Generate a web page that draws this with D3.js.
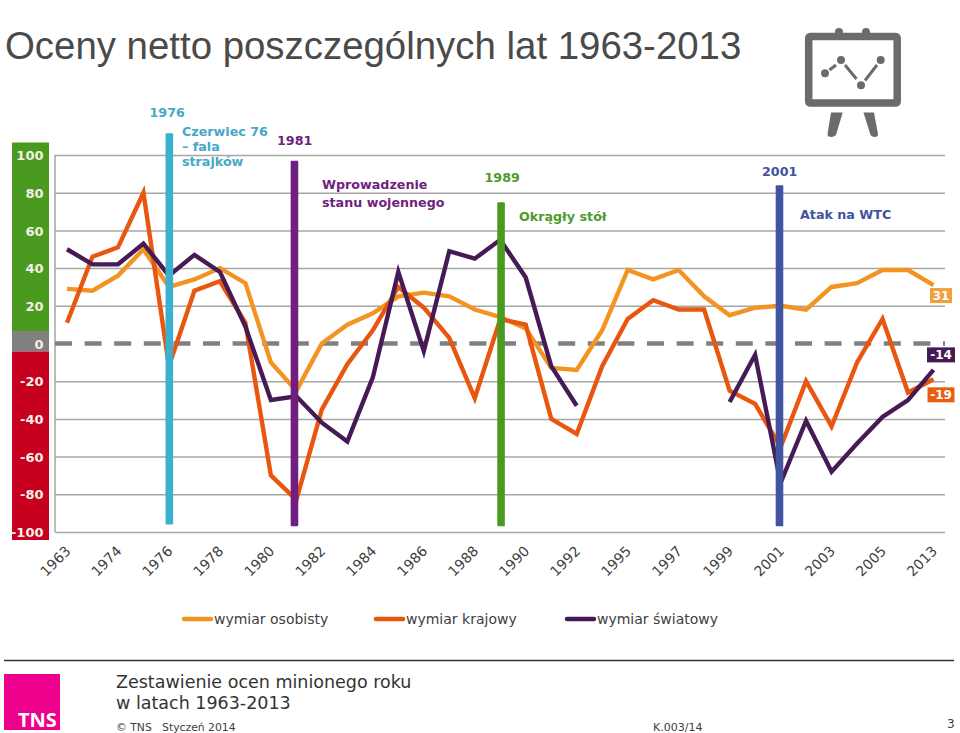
<!DOCTYPE html>
<html><head><meta charset="utf-8">
<style>html,body{margin:0;padding:0;background:#fff}svg{display:block}</style>
<script src="https://cdn.jsdelivr.net/npm/d3@7"></script></head>
<body><svg id="c" width="960" height="733" font-family="DejaVu Sans"></svg>
<script>
const years=[1963,1970,1974,1975,1976,1977,1978,1979,1980,1981,1982,1983,1984,1985,1986,1987,1988,1989,1990,1991,1992,1993,1995,1996,1997,1998,1999,2000,2001,2002,2003,2004,2005,2009,2013];
const xTickYears=[1963,1974,1976,1978,1980,1982,1984,1986,1988,1990,1992,1995,1997,1999,2001,2003,2005,2013];
const yTicks=[100,80,60,40,20,-20,-40,-60,-80,-100];
const yLabels=[100,80,60,40,20,0,-20,-40,-60,-80,-100];
const osobisty=[29,28,36,50,30,34,40,32,-10,-25,0,10,16,25,27,25,18,14,8,-13,-14,7,39,34,39,25,15,19,20,18,30,32,39,39,31];
const krajowy=[11,46,51,80,-12,28,33,11,-70,-83,-35,-11,7,30,19,3,-29,13,10,-40,-48,-12,13,23,18,18,-25,-32,-55,-20,-44,-10,13,-26,-19];
const swiatowy=[50,42,42,53,36,47,38,9,-30,-28,-42,-52,-18,38,-4,49,45,55,35,-12,-33,null,null,null,null,null,-31,-6,-74,-41,-68,-53,-39,-30,-14];
const seriesNames=["wymiar osobisty","wymiar krajowy","wymiar światowy"];
const eventYears=[1976,1981,1989,2001];
const eventTops=[111.5,97,75,84];
const eventBottoms=[-96,-97,-97,-97];
const eventLabels=["1976","1981","1989","2001"];
const eventNotes=[["Czerwiec 76","– fala","strajków"],["Wprowadzenie","stanu wojennego"],["Okrągły stół"],["Atak na WTC"]];

const svg=d3.select("#c");
const x=d3.scalePoint().domain(years).range([67,933.5]);
const y=d3.scaleLinear().domain([-100,100]).range([532,155]);
const colors=["#f39422","#e8560f","#451a55"];
const endColors=["#f2a03c","#e8600f","#451a55"];
const eventColors=["#3bb0cf","#6f1f80","#4a9a1f","#41549f"];
const noteColors=["#45a9c4","#6f1f80","#4f9a2a","#41549f"];

// colour band behind the y labels
svg.append("rect").attr("x",12).attr("y",142.5).attr("width",37).attr("height",y(0)-12.5-142.5).attr("fill","#4a9a1f");
svg.append("rect").attr("x",12).attr("y",y(0)-12.5).attr("width",37).attr("height",20.5).attr("fill","#808080");
svg.append("rect").attr("x",12).attr("y",y(0)+8).attr("width",37).attr("height",540-y(0)-8).attr("fill","#c6001e");

// grid
const gridAxis=d3.axisLeft(y).tickValues(yTicks).tickSize(-890).tickFormat("");
const grid=svg.append("g").attr("transform","translate(55,0)").call(gridAxis);
grid.select(".domain").attr("stroke","#a6a6a6").attr("stroke-width",1.5).attr("d",`M0,${y(100)}V${y(-100)}`);
grid.selectAll(".tick line").attr("stroke","#a6a6a6").attr("stroke-width",1.5);

// dashed zero line
svg.append("line").attr("x1",55).attr("x2",945).attr("y1",y(0)).attr("y2",y(0))
  .attr("stroke","#808080").attr("stroke-width",4.5).attr("stroke-dasharray","17 12.6");

// y labels
const yLab=svg.append("g").attr("transform","translate(43.5,0)").call(d3.axisLeft(y).tickValues(yLabels).tickSize(0).tickPadding(0).tickFormat(String));
yLab.select(".domain").remove();
yLab.selectAll("text").attr("fill","#f4efe8").attr("font-size",13).attr("font-weight","bold").attr("font-family","DejaVu Sans").attr("dy","0.36em");

// x labels
const xAxis=d3.axisBottom(x).tickValues(xTickYears).tickSize(0).tickPadding(0).tickFormat(String);
const xg=svg.append("g").attr("transform","translate(0,548)").call(xAxis);
xg.select(".domain").remove();
xg.selectAll("text").attr("fill","#404040").attr("font-size",14).attr("font-family","DejaVu Sans")
  .attr("text-anchor","end").attr("dy",0).attr("y",0).attr("x",0)
  .attr("transform","translate(4,4) rotate(-45)");

// lines
const line=d3.line().defined(d=>d.v!==null).x(d=>x(d.yr)).y(d=>y(d.v));
[osobisty,krajowy,swiatowy].forEach((s,i)=>{
  svg.append("path").datum(s.map((v,k)=>({yr:years[k],v})))
    .attr("d",line).attr("fill","none").attr("stroke",colors[i]).attr("stroke-width",4.4).attr("stroke-linejoin","miter").attr("stroke-linecap","butt");
});

// event bars
const eventNudge=[0.4,-1.9,0.8,-1.1];
eventYears.forEach((yr,i)=>{
  svg.append("rect").attr("x",x(yr)+eventNudge[i]-3.8).attr("width",7.6)
    .attr("y",y(eventTops[i])).attr("height",y(eventBottoms[i])-y(eventTops[i]))
    .attr("rx",1).attr("fill",eventColors[i]);
});

// event text
const labelPos=[[149.5,117],[277,144.5],[484.5,182],[762,175.5]];
const notePos=[[182,136,15],[322,188.5,18.5],[519,220.5,0],[800,219,0]];
eventLabels.forEach((t,i)=>{
  svg.append("text").attr("x",labelPos[i][0]).attr("y",labelPos[i][1]).text(t)
    .attr("fill",noteColors[i]).attr("font-size",12.7).attr("font-weight","bold");
  eventNotes[i].forEach((n,k)=>{
    svg.append("text").attr("x",notePos[i][0]).attr("y",notePos[i][1]+k*notePos[i][2]).text(n)
      .attr("fill",noteColors[i]).attr("font-size",12.7).attr("font-weight","bold");
  });
});

// end labels
const endLabels=[[osobisty,10.5,930,22,0],[swiatowy,-15,927,28,2],[krajowy,15.5,927.5,27,1]];
endLabels.forEach(([s,dy,bx,bw,ci])=>{
  const v=s[s.length-1], cy=y(v)+dy;
  svg.append("rect").attr("x",bx).attr("y",cy-7.5).attr("width",bw).attr("height",15).attr("fill",endColors[ci]);
  svg.append("text").attr("x",bx+bw/2).attr("y",cy).attr("dy","0.36em").attr("text-anchor","middle")
    .attr("fill","#fff").attr("font-size",12).attr("font-weight","bold").text(String(v));
});

// legend
const legendX=[182,374,565];
seriesNames.forEach((n,i)=>{
  svg.append("line").attr("x1",legendX[i]+2).attr("x2",legendX[i]+29).attr("y1",619).attr("y2",619)
    .attr("stroke",colors[i]).attr("stroke-width",4.5).attr("stroke-linecap","round");
  svg.append("text").attr("x",legendX[i]+32).attr("y",624).text(n).attr("fill","#404040").attr("font-size",14);
});

// title
svg.append("text").attr("x",5).attr("y",59).text("Oceny netto poszczególnych lat 1963-2013")
  .attr("fill","#4a4a4a").attr("font-size",38.4).attr("font-family","Liberation Sans");

// icon
const icon=svg.append("g").attr("fill","#6b6b6b");
icon.append("circle").attr("cx",839).attr("cy",32).attr("r",4);
icon.append("circle").attr("cx",866).attr("cy",32).attr("r",4);
icon.append("rect").attr("x",808.7).attr("y",36.5).attr("width",88.5).attr("height",66.5).attr("rx",1.5).attr("fill","#fff").attr("stroke","#6b6b6b").attr("stroke-width",7.5);
[[825,73.3],[841,60],[861,85.3],[880.7,60]].forEach(p=>icon.append("circle").attr("cx",p[0]).attr("cy",p[1]).attr("r",4));
[[829.5,70,836,65],[845,65,856.5,79],[865,80.5,877,65]].forEach(s=>icon.append("line").attr("x1",s[0]).attr("y1",s[1]).attr("x2",s[2]).attr("y2",s[3]).attr("stroke","#6b6b6b").attr("stroke-width",3));
icon.append("path").attr("d","M831,112.5H842.7L836,135Q834,137 831,137Q827.5,137 827.5,134Z");
icon.append("path").attr("d","M863.5,112.5H874L878,134Q878,137 875,137Q872,137 870.5,135Z");

// footer
svg.append("line").attr("x1",4).attr("x2",954).attr("y1",660.5).attr("y2",660.5).attr("stroke","#333").attr("stroke-width",1.6);
svg.append("rect").attr("x",4).attr("y",674).attr("width",56).attr("height",56).attr("fill","#ec008c");
svg.append("text").attr("x",18).attr("y",726.5).text("TNS").attr("fill","#fff").attr("font-size",20).attr("font-weight","bold").attr("font-family","Open Sans");
svg.append("text").attr("x",116).attr("y",688).text("Zestawienie ocen minionego roku").attr("fill","#333").attr("font-size",17.5);
svg.append("text").attr("x",116).attr("y",709).text("w latach 1963-2013").attr("fill","#333").attr("font-size",17.5);
svg.append("text").attr("x",116).attr("y",731).text("© TNS   Styczeń 2014").attr("fill","#404040").attr("font-size",10.8).attr("xml:space","preserve");
svg.append("text").attr("x",653).attr("y",731).text("K.003/14").attr("fill","#404040").attr("font-size",11);
svg.append("text").attr("x",947).attr("y",728).text("3").attr("fill","#404040").attr("font-size",12);
</script></body></html>
